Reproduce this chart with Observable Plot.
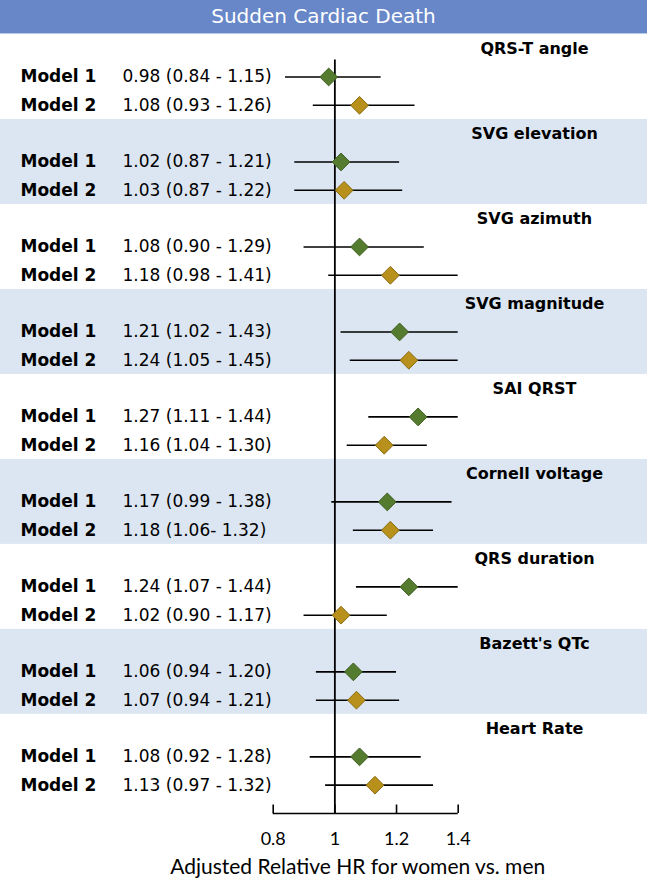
<!DOCTYPE html>
<html>
<head>
<meta charset="utf-8">
<script src="https://cdn.jsdelivr.net/npm/d3@7"></script>
<script src="https://cdn.jsdelivr.net/npm/@observablehq/plot@0.6"></script>
<style>
  html, body { margin: 0; padding: 0; background: #fff; }
  #title {
    width: 647px; height: 33px; line-height: 33px;
    background: #6787c8; color: #fff; text-align: center;
    font-family: "DejaVu Sans", sans-serif; font-size: 20px;
    border-bottom: 1px solid #b7c9e8;
  }
</style>
</head>
<body>
<div id="title">Sudden Cardiac Death</div>
<div id="chart"></div>
<script>
const groups = ["QRS-T angle", "SVG elevation", "SVG azimuth", "SVG magnitude", "SAI QRST", "Cornell voltage", "QRS duration", "Bazett's QTc", "Heart Rate"];
const models = ["Model 1", "Model 2"];

const m1HR = [0.98, 1.02, 1.08, 1.21, 1.27, 1.17, 1.24, 1.06, 1.08];
const m1Lo = [0.84, 0.87, 0.90, 1.02, 1.11, 0.99, 1.07, 0.94, 0.92];
const m1Hi = [1.15, 1.21, 1.29, 1.43, 1.44, 1.38, 1.44, 1.20, 1.28];
const m1Text = ["0.98 (0.84 - 1.15)", "1.02 (0.87 - 1.21)", "1.08 (0.90 - 1.29)", "1.21 (1.02 - 1.43)", "1.27 (1.11 - 1.44)", "1.17 (0.99 - 1.38)", "1.24 (1.07 - 1.44)", "1.06 (0.94 - 1.20)", "1.08 (0.92 - 1.28)"];

const m2HR = [1.08, 1.03, 1.18, 1.24, 1.16, 1.18, 1.02, 1.07, 1.13];
const m2Lo = [0.93, 0.87, 0.98, 1.05, 1.04, 1.06, 0.90, 0.94, 0.97];
const m2Hi = [1.26, 1.22, 1.41, 1.45, 1.30, 1.32, 1.17, 1.21, 1.32];
const m2Text = ["1.08 (0.93 - 1.26)", "1.03 (0.87 - 1.22)", "1.18 (0.98 - 1.41)", "1.24 (1.05 - 1.45)", "1.16 (1.04 - 1.30)", "1.18 (1.06- 1.32)", "1.02 (0.90 - 1.17)", "1.07 (0.94 - 1.21)", "1.13 (0.97 - 1.32)"];

const xTicks = [0.8, 1, 1.2, 1.4];
const xLabel = "Adjusted Relative HR for women vs. men";

// build table
const rows = [];
groups.forEach((g, i) => {
  rows.push({group: g, gi: i, model: models[0], row: 3 * i + 1, hr: m1HR[i], lo: m1Lo[i], hi: m1Hi[i], text: m1Text[i]});
  rows.push({group: g, gi: i, model: models[1], row: 3 * i + 2, hr: m2HR[i], lo: m2Lo[i], hi: m2Hi[i], text: m2Text[i]});
});
const groupRows = groups.map((g, i) => ({group: g, gi: i, row: 3 * i}));
const bands = groupRows.filter(d => d.gi % 2 === 1);
const xMin = d3.min(xTicks), xMax = d3.max(xTicks);
const axisRow = groups.length * 3;
const xDomain = [-0.0845, 2.014];

const fill = {"Model 1": "#557b2e", "Model 2": "#b8911c"};
const stroke = {"Model 1": "#3e5e20", "Model 2": "#8a6b10"};

const chart = Plot.plot({
  width: 647,
  height: 849,
  marginLeft: 0, marginRight: 0, marginTop: 0, marginBottom: 70,
  x: {domain: xDomain, axis: null},
  y: {domain: [-0.5, axisRow], reverse: true, axis: null},
  style: {fontFamily: "DejaVu Sans, sans-serif", background: "white", color: "black"},
  marks: [
    Plot.rect(bands, {x1: xDomain[0], x2: xDomain[1], y1: d => d.row - 0.5, y2: d => d.row + 2.5, fill: "#dce6f2"}),
    Plot.ruleX([1], {y1: 0.4, y2: axisRow, stroke: "black", strokeWidth: 1.8}),
    Plot.ruleY(rows, {y: "row", x1: "lo", x2: d => Math.min(d.hi, xMax), stroke: "black", strokeWidth: 1.6}),
    Plot.dot(rows, {x: "hr", y: "row", symbol: "diamond2", r: 8, fill: d => fill[d.model], stroke: d => stroke[d.model], strokeWidth: 1}),
    Plot.text(rows, {y: "row", text: "model", frameAnchor: "left", dx: 20, textAnchor: "start", fontSize: 17, fontWeight: "bold", fill: "black"}),
    Plot.text(rows, {y: "row", text: "text", frameAnchor: "left", dx: 122, textAnchor: "start", fontSize: 17, fill: "black"}),
    Plot.text(groupRows, {y: "row", text: "group", frameAnchor: "left", dx: 534, textAnchor: "middle", fontSize: 16, fontWeight: "bold", fill: "black"}),
    // axis
    Plot.ruleY([axisRow], {x1: xMin, x2: xMax, stroke: "black", strokeWidth: 1.6}),
    Plot.ruleX(xTicks, {x: d => d, y1: axisRow, y2: axisRow - 0.3, stroke: "black", strokeWidth: 1.6}),
    Plot.text(xTicks, {x: d => d, y: axisRow, dy: 26, text: d => String(d), fontSize: 18, fontFamily: "Lato, sans-serif", fill: "black"}),
    Plot.text([xLabel], {x: (xMin + xMax) / 2, y: axisRow, dy: 54, dx: -8, text: d => d, fontSize: 21, fontFamily: "Lato, sans-serif", fill: "black"})
  ]
});
document.getElementById("chart").appendChild(chart);
</script>
</body>
</html>
